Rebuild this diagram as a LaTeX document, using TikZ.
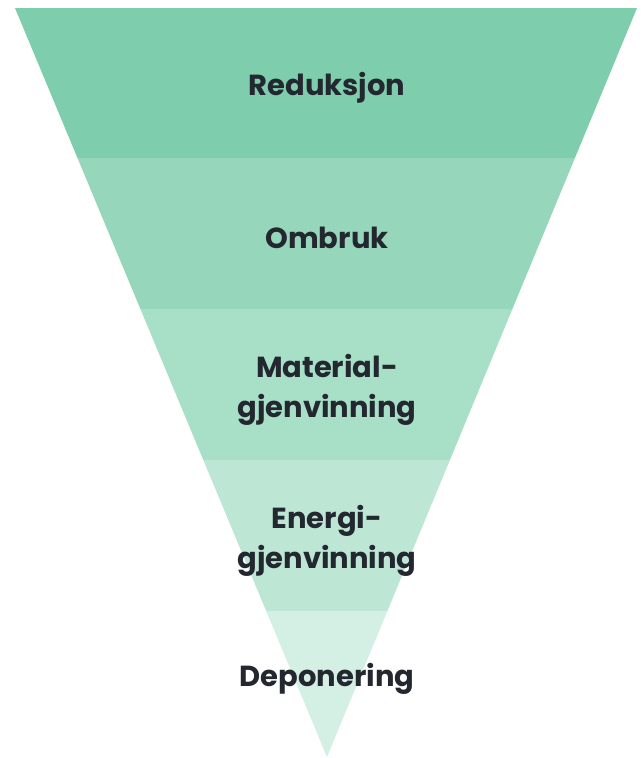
\documentclass[tikz,border=0pt]{standalone}
\usepackage{fontspec}
\setmainfont{Poppins}
\definecolor{bandA}{HTML}{7ECDAC}
\definecolor{bandB}{HTML}{96D7BB}
\definecolor{bandC}{HTML}{A8DFC7}
\definecolor{bandD}{HTML}{BDE7D4}
\definecolor{bandE}{HTML}{D4EFE3}
\definecolor{txt}{HTML}{23272F}
\begin{document}
\begin{tikzpicture}[x=1pt,y=-1pt,
  lbl/.style={text=txt,font=\fontsize{29}{40}\selectfont\bfseries,align=center,inner sep=0pt}]
\useasboundingbox (0,0) rectangle (644,758);
\begin{scope}
\clip (15,8) -- (637,8) -- (327,757) -- cycle;
\fill[bandA] (0,8) rectangle (644,157.5);
\fill[bandB] (0,157.5) rectangle (644,308.5);
\fill[bandC] (0,308.5) rectangle (644,459.5);
\fill[bandD] (0,459.5) rectangle (644,610.5);
\fill[bandE] (0,610.5) rectangle (644,758);
\end{scope}
\node[lbl] (r) at (327,88) {Reduksjon};
\node[lbl] (o) at (327,238) {Ombruk};
\node[lbl] (m) at (327,390) {Material-\\gjenvinning};
\node[lbl] (e) at (327,541) {Energi-\\gjenvinning};
\node[lbl] (d) at (327,679) {Deponering};
\end{tikzpicture}
\end{document}
